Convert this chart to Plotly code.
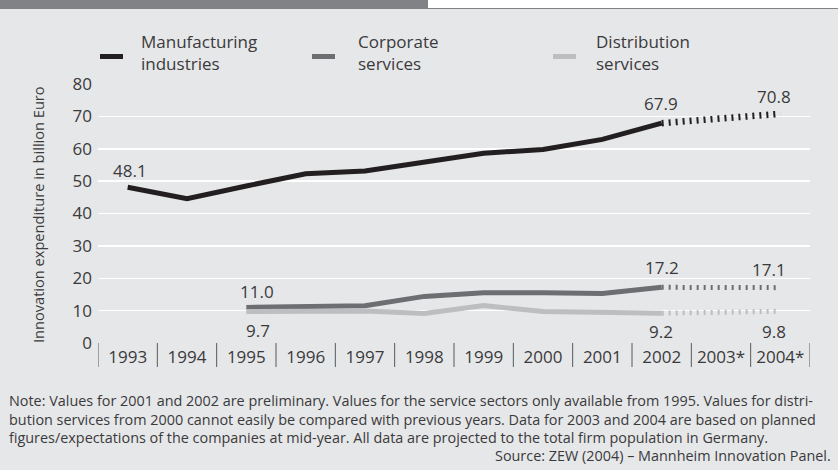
import plotly.graph_objects as go

# ---------------- data ----------------
years = ["1993", "1994", "1995", "1996", "1997", "1998", "1999", "2000",
         "2001", "2002", "2003*", "2004*"]
manufacturing = [48.1, 44.6, 48.5, 52.3, 53.1, 55.9, 58.6, 59.8, 62.9, 67.9, 69.4, 70.8]
corporate = [None, None, 11.0, 11.2, 11.5, 14.4, 15.5, 15.5, 15.3, 17.2, 17.15, 17.1]
distribution = [None, None, 9.7, 9.9, 9.9, 9.1, 11.6, 9.7, 9.6, 9.2, 9.5, 9.8]
series_names = ["Manufacturing<br>industries", "Corporate<br>services", "Distribution<br>services"]
y_ticks = [0, 10, 20, 30, 40, 50, 60, 70, 80]
y_title = "Innovation expenditure in billion Euro"
note_lines = [
    "Note: Values for 2001 and 2002 are preliminary. Values for the service sectors only available from 1995. Values for distri-",
    "bution services from 2000 cannot easily be compared with previous years. Data for 2003 and 2004 are based on planned",
    "figures/expectations of the companies at mid-year. All data are projected to the total firm population in Germany.",
]
source_text = "Source: ZEW (2004) – Mannheim Innovation Panel."

# ---------------- style ----------------
W, H = 838, 470
L, R, T, B = 98, 28, 84, 127
PW, PH = W - L - R, H - T - B
BG = "#e6e7e8"
TXT = "#3a3a3c"
FONT = "Open Sans, Noto Sans, sans-serif"
FS = 17
colors = ["#231f20", "#6d6e71", "#bcbec0"]
solid_w = [5, 5, 5]
dot_w = [6.5, 5, 5]
proj = years.index("2002")


def px_x(px):
    return (px - L) / PW


def px_y(py):
    return (H - B - py) / PH


fig = go.Figure()
all_series = [manufacturing, corporate, distribution]
xi = list(range(len(years)))
for vals, c, sw, dw in zip(all_series, colors, solid_w, dot_w):
    fig.add_trace(go.Scatter(x=xi[:proj + 1], y=vals[:proj + 1], mode="lines",
                             line=dict(color=c, width=sw), hoverinfo="skip",
                             showlegend=False))
    fig.add_trace(go.Scatter(x=xi[proj:], y=vals[proj:], mode="lines",
                             line=dict(color=c, width=dw, dash="2px,5px"),
                             hoverinfo="skip", showlegend=False))

# value labels: (series index, point index, yshift, xshift)
label_spec = [
    (0, 0, 17, 2), (0, 9, 20, -1), (0, 11, 17, -6),
    (1, 2, 16, 11), (1, 9, 20, 0), (1, 11, 18, -11),
    (2, 2, -19, 12), (2, 9, -18, -1), (2, 11, -20, -6),
]
annotations = []
for si, pi, ys, xs in label_spec:
    v = all_series[si][pi]
    annotations.append(dict(x=pi, y=v, xref="x", yref="y",
                            text=f"{v:.1f}", showarrow=False,
                            yshift=ys, xshift=xs,
                            font=dict(family=FONT, size=FS, color=TXT)))

shapes = []
# category separators below the axis
for i in range(len(years) + 1):
    shapes.append(dict(type="line", xref="x", yref="paper",
                       x0=i - 0.5, x1=i - 0.5, y0=0, y1=px_y(H - B + 24),
                       line=dict(color="#58595b", width=1)))

# manual legend
legend_marks = [(100, 123, 139), (312, 335, 356), (553, 576, 594)]
for (x0, x1, tx), name, c in zip(legend_marks, series_names, colors):
    shapes.append(dict(type="line", xref="paper", yref="paper",
                       x0=px_x(x0), x1=px_x(x1), y0=px_y(56.5), y1=px_y(56.5),
                       line=dict(color=c, width=5)))
    annotations.append(dict(x=px_x(tx), y=px_y(52), xref="paper", yref="paper",
                            text=name, showarrow=False, xanchor="left",
                            yanchor="middle", align="left",
                            font=dict(family=FONT, size=FS, color=TXT)))

# y axis title
annotations.append(dict(x=px_x(38), y=px_y(215), xref="paper", yref="paper",
                        text=y_title, textangle=-90, showarrow=False,
                        xanchor="center", yanchor="middle",
                        font=dict(family=FONT, size=14.6, color=TXT)))

# notes
annotations.append(dict(x=px_x(7), y=px_y(389), xref="paper", yref="paper",
                        text="<br>".join(note_lines), showarrow=False,
                        xanchor="left", yanchor="top", align="left",
                        font=dict(family=FONT, size=14.4, color=TXT)))
annotations.append(dict(x=px_x(833), y=px_y(455), xref="paper", yref="paper",
                        text=source_text, showarrow=False, xanchor="right",
                        yanchor="middle", align="right",
                        font=dict(family=FONT, size=14.4, color=TXT)))

# top decorative bars
shapes.append(dict(type="rect", xref="paper", yref="paper", layer="above",
                   x0=px_x(0), x1=px_x(428), y0=px_y(0), y1=px_y(9),
                   fillcolor="#808285", line=dict(width=0)))
shapes.append(dict(type="rect", xref="paper", yref="paper", layer="above",
                   x0=px_x(428), x1=px_x(838), y0=px_y(0), y1=px_y(8),
                   fillcolor="#ffffff", line=dict(width=0)))
shapes.append(dict(type="line", xref="paper", yref="paper", layer="above",
                   x0=px_x(428), x1=px_x(838), y0=px_y(8.5), y1=px_y(8.5),
                   line=dict(color="#808285", width=1)))

fig.update_layout(
    width=W, height=H,
    margin=dict(l=L, r=R, t=T, b=B, pad=0),
    paper_bgcolor=BG, plot_bgcolor=BG,
    font=dict(family=FONT, size=FS, color=TXT),
    shapes=shapes, annotations=annotations,
    xaxis=dict(tickmode="array", tickvals=xi, ticktext=years,
               range=[-0.5, len(years) - 0.5], showgrid=False, zeroline=False,
               showline=False, ticks="", ticklabelstandoff=2,
               tickfont=dict(family=FONT, size=FS, color=TXT), fixedrange=True),
    yaxis=dict(range=[0, 80], tickvals=y_ticks, showgrid=True, gridcolor="#ffffff",
               gridwidth=1.5, zeroline=False, showline=False, ticks="",
               ticklabelstandoff=5,
               tickfont=dict(family=FONT, size=FS, color=TXT), fixedrange=True),
)

fig.write_html("out.html", config={"displayModeBar": False, "staticPlot": True},
               post_script="document.body.style.margin='0';document.body.style.padding='0';")
